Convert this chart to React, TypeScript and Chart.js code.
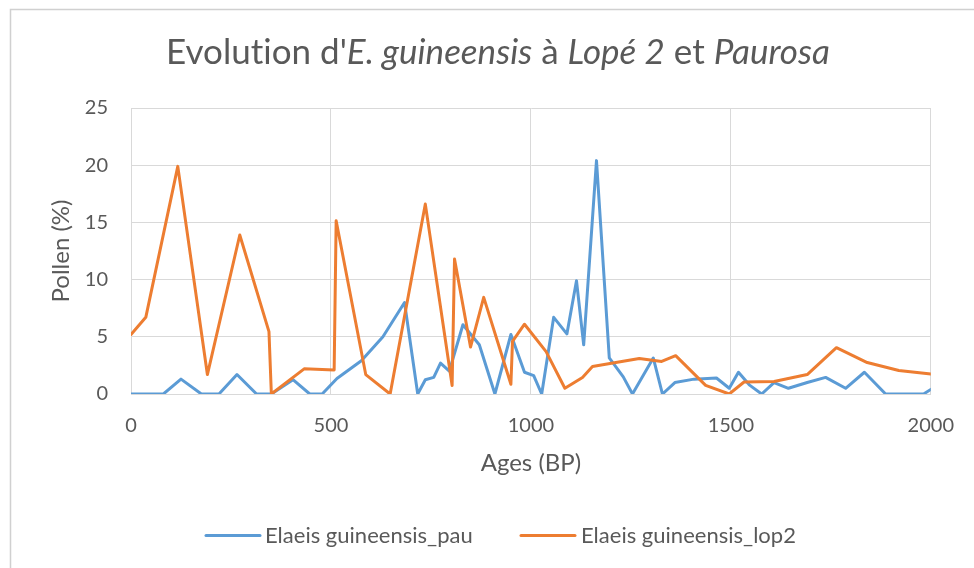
import React, { useEffect, useRef } from "react";
import { Chart, registerables } from "chart.js";

Chart.register(...registerables);

// Elaeis guineensis pollen percentages against age (years BP)
const pauAges = [0, 81, 125, 176, 220, 265, 314, 351, 405, 447, 478, 515, 576, 630, 684, 717, 736, 757, 774, 796, 830, 871, 910, 950, 984, 1007, 1027, 1057, 1090, 1114, 1132, 1164, 1196, 1231, 1254, 1306, 1329, 1360, 1408, 1464, 1496, 1519, 1546, 1577, 1608, 1644, 1691, 1737, 1787, 1834, 1887, 1982, 2000];
const pauValues = [0, 0, 1.3, 0, 0, 1.7, 0, 0, 1.25, 0, 0, 1.35, 2.9, 5.0, 8.0, 0, 1.25, 1.45, 2.7, 2.0, 6.05, 4.3, 0, 5.2, 1.9, 1.6, 0, 6.7, 5.25, 9.9, 4.3, 20.4, 3.15, 1.5, 0, 3.15, 0, 1.0, 1.3, 1.4, 0.5, 1.9, 0.8, 0, 1.0, 0.5, 1.0, 1.45, 0.5, 1.9, 0, 0, 0.4];

const lopAges = [0, 37, 117, 191, 272, 345, 351, 433, 508, 513, 587, 648, 736, 803, 809, 849, 882, 950, 954, 984, 1038, 1085, 1129, 1154, 1271, 1327, 1362, 1437, 1496, 1533, 1608, 1691, 1764, 1841, 1920, 2000];
const lopValues = [5.2, 6.7, 19.9, 1.7, 13.9, 5.45, 0, 2.2, 2.1, 15.15, 1.7, 0, 16.6, 0.75, 11.8, 4.1, 8.45, 0.85, 4.6, 6.1, 3.7, 0.5, 1.45, 2.4, 3.1, 2.85, 3.35, 0.75, 0, 1.05, 1.1, 1.7, 4.05, 2.75, 2.05, 1.75];

const seriesNames = ["Elaeis guineensis_pau", "Elaeis guineensis_lop2"];
const seriesColors = ["#5B9BD5", "#ED7D31"];

// Title pieces: [text, italic]
const titleParts: [string, boolean][] = [
  ["Evolution d'", false],
  ["E. guineensis", true],
  [" à ", false],
  ["Lopé 2", true],
  [" et ", false],
  ["Paurosa", true],
];

const xTitle = "Ages (BP)";
const yTitle = "Pollen (%)";

const FONT = "Lato, 'Open Sans', sans-serif";
const TEXT = "#595959";
const GRID = "#D9D9D9";

const frame = {
  id: "frame",
  beforeDraw(chart: any) {
    const { ctx } = chart;
    ctx.save();
    ctx.fillStyle = "#ffffff";
    ctx.fillRect(0, 0, chart.width, chart.height);
    ctx.strokeStyle = "#D0D0D0";
    ctx.lineWidth = 1.5;
    ctx.strokeRect(10.5, 9.5, chart.width + 20, chart.height + 20);
    ctx.restore();
  },
};

const titleAndLegend = {
  id: "titleAndLegend",
  afterDraw(chart: any) {
    const { ctx } = chart;
    ctx.save();
    ctx.fillStyle = TEXT;
    ctx.textBaseline = "alphabetic";
    (ctx as any).letterSpacing = "0.01px";
    (ctx as any).textRendering = "optimizeSpeed";
    const size = 35;
    const fontFor = (it: boolean) => `${it ? "italic " : ""}${size}px ${FONT}`;
    let total = 0;
    for (const [t, it] of titleParts) {
      ctx.font = fontFor(it);
      total += ctx.measureText(t).width;
    }
    let x = 498 - total / 2;
    for (const [t, it] of titleParts) {
      ctx.font = fontFor(it);
      ctx.fillText(t, x, 64);
      x += ctx.measureText(t).width;
    }

    // legend
    const items = [
      { x0: 206, x1: 260, tx: 265 },
      { x0: 521, x1: 575, tx: 581 },
    ];
    ctx.font = `22px ${FONT}`;
    ctx.textBaseline = "middle";
    items.forEach((it, i) => {
      ctx.strokeStyle = seriesColors[i];
      ctx.lineWidth = 3;
      ctx.lineCap = "round";
      ctx.beginPath();
      ctx.moveTo(it.x0, 535.5);
      ctx.lineTo(it.x1, 535.5);
      ctx.stroke();
      ctx.fillStyle = TEXT;
      ctx.fillText(seriesNames[i], it.tx, 536);
    });
    ctx.restore();
  },
};

export default function App() {
  const ref = useRef<HTMLCanvasElement>(null);

  useEffect(() => {
    if (!ref.current) return;
    const chart = new Chart(ref.current, {
      type: "line",
      data: {
        datasets: [
          {
            label: seriesNames[0],
            data: pauAges.map((a, i) => ({ x: a, y: pauValues[i] })),
            borderColor: seriesColors[0],
            backgroundColor: seriesColors[0],
            borderWidth: 3,
            pointRadius: 0,
            tension: 0,
            borderJoinStyle: "round",
            borderCapStyle: "round",
            order: 1,
          },
          {
            label: seriesNames[1],
            data: lopAges.map((a, i) => ({ x: a, y: lopValues[i] })),
            borderColor: seriesColors[1],
            backgroundColor: seriesColors[1],
            borderWidth: 3,
            pointRadius: 0,
            tension: 0,
            borderJoinStyle: "round",
            borderCapStyle: "round",
            order: 0,
          },
        ],
      },
      options: {
        animation: false,
        responsive: false,
        layout: { padding: { top: 108, left: 0, right: 42, bottom: 84 } },
        plugins: {
          legend: { display: false },
          title: { display: false },
          tooltip: { enabled: false },
        },
        scales: {
          x: {
            type: "linear",
            min: 0,
            max: 2000,
            ticks: {
              stepSize: 500,
              color: TEXT,
              font: { family: FONT, size: 20 },
              padding: 20,
              maxRotation: 0,
              callback: (v: any) => String(v),
            },
            grid: { color: GRID, lineWidth: 1, drawTicks: false },
            border: { color: GRID },
            title: {
              display: true,
              text: xTitle,
              color: TEXT,
              font: { family: FONT, size: 24, lineHeight: 1.2 },
              padding: { top: 0, bottom: 6 },
            },
            afterFit(scale: any) {
              scale.height = 90;
            },
          },
          y: {
            min: 0,
            max: 25,
            ticks: {
              stepSize: 5,
              color: TEXT,
              font: { family: FONT, size: 20 },
              padding: 23,
            },
            grid: { color: GRID, lineWidth: 1, drawTicks: false },
            border: { color: GRID },
            title: {
              display: true,
              text: yTitle,
              color: TEXT,
              font: { family: FONT, size: 24, lineHeight: 1.2 },
              padding: { top: 47, bottom: 0 },
            },
            afterFit(scale: any) {
              scale.width = 131;
            },
          },
        },
      },
      plugins: [frame, titleAndLegend],
    } as any);
    return () => chart.destroy();
  }, []);

  return (
    <div style={{ position: "absolute", left: 0, top: 0, width: 974, height: 568 }}>
      <canvas ref={ref} width={974} height={568} style={{ display: "block", width: 974, height: 568 }} />
    </div>
  );
}
